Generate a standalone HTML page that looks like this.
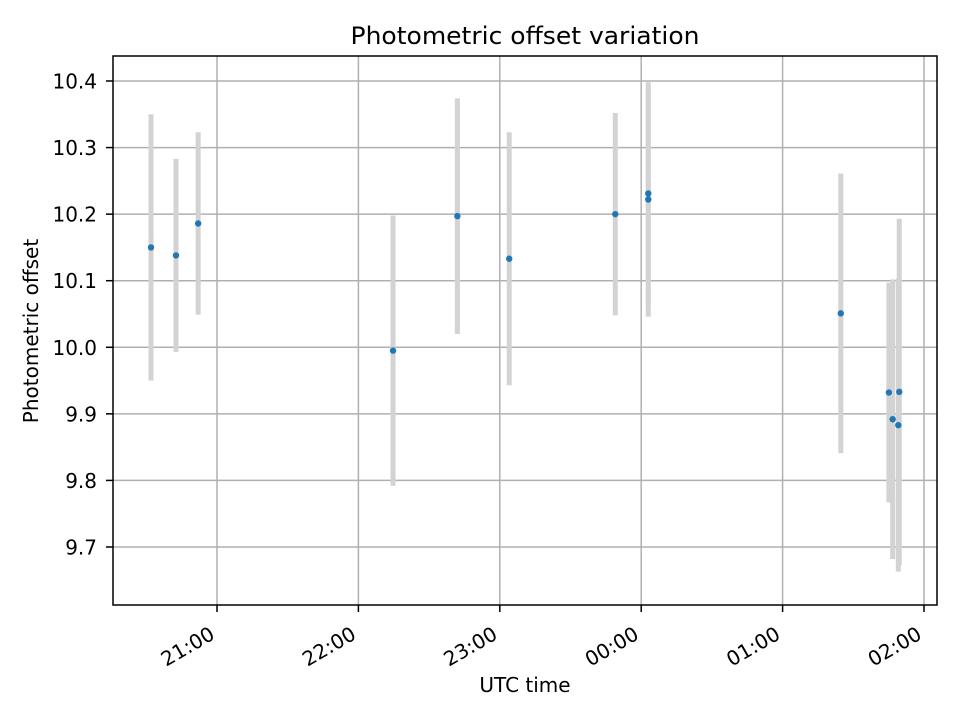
<!DOCTYPE html>
<html><head><meta charset="utf-8"><style>
body{margin:0;background:#fff;}
svg{display:block;font-family:"DejaVu Sans","Liberation Sans",sans-serif;}
</style></head><body>
<svg id="chart" width="960" height="720">
<rect width="960" height="720" fill="#fff"/>
<g id="grid"></g>
<g id="bars"></g>
<g id="pts"></g>
<rect x="113" y="56" width="824" height="549" fill="none" stroke="#000" stroke-width="1.5"/>
<g id="axes"></g>
<text x="525" y="44" text-anchor="middle" font-size="24" textLength="349" lengthAdjust="spacingAndGlyphs">Photometric offset variation</text>
<text x="525" y="692" text-anchor="middle" font-size="20">UTC time</text>
<text x="38" y="331" text-anchor="middle" font-size="20" transform="rotate(-90 38 331)">Photometric offset</text>
</svg>
<script>
// minutes since 20:00
const times = [32, 42.6, 52, 134.7, 162, 184, 229, 243, 243, 324.7, 345.1, 346.7, 349.5, 349.1];
const values = [10.15, 10.138, 10.186, 9.995, 10.197, 10.133, 10.2, 10.231, 10.222, 10.051, 9.932, 9.892, 9.933, 9.883];
const errors = [0.2, 0.145, 0.137, 0.203, 0.177, 0.19, 0.152, 0.167, 0.176, 0.21, 0.165, 0.21, 0.26, 0.22];
const yTicks = [9.7, 9.8, 9.9, 10.0, 10.1, 10.2, 10.3, 10.4];
const xTickMinutes = [60, 120, 180, 240, 300, 360];
const xTickLabels = ["21:00", "22:00", "23:00", "00:00", "01:00", "02:00"];

const NS = "http://www.w3.org/2000/svg";
const xs = m => 217 + (m - 60) * 141.4 / 60;
const ys = v => 81 + (10.4 - v) * 665.7;
function mk(tag, attrs, parent){const e=document.createElementNS(NS,tag);for(const k in attrs)e.setAttribute(k,attrs[k]);parent.appendChild(e);return e;}
const grid=document.getElementById('grid'), axes=document.getElementById('axes');
yTicks.forEach(t=>{
  const y=ys(t);
  const g=mk('line',{x1:113,x2:937,y1:y,y2:y,stroke:'#b0b0b0','stroke-width':1.5},grid);
  
  
  mk('line',{x1:106,x2:113,y1:y,y2:y,stroke:'#000','stroke-width':1.5},axes);
  const tx=mk('text',{x:97,y:y+7.5,'text-anchor':'end','font-size':20},axes);
  tx.textContent=t.toFixed(1);
  
  
});
xTickMinutes.forEach((m,i)=>{
  const x=xs(m);
  const g=mk('line',{x1:x,x2:x,y1:56,y2:605,stroke:'#b0b0b0','stroke-width':1.5},grid);
  
  
  mk('line',{x1:x,x2:x,y1:605,y2:612,stroke:'#000','stroke-width':1.5},axes);
  const ax=x-1, ay=638;
  const tx=mk('text',{x:ax,y:ay,'text-anchor':'end','font-size':20,transform:`rotate(-30 ${ax} ${ay})`},axes);
  tx.textContent=xTickLabels[i];
  
  
});
const bars=document.getElementById('bars'), pts=document.getElementById('pts');
times.forEach((m,i)=>{
  const x=xs(m), y1=ys(values[i]+errors[i]), y2=ys(values[i]-errors[i]);
  const r=mk('rect',{x:x-2.5,y:y1,width:5,height:y2-y1,fill:'#d3d3d3'},bars);
  
  
  const c=mk('circle',{cx:x,cy:ys(values[i]),r:3.2,fill:'#1f77b4'},pts);
  
  
});
</script>
</body></html>
